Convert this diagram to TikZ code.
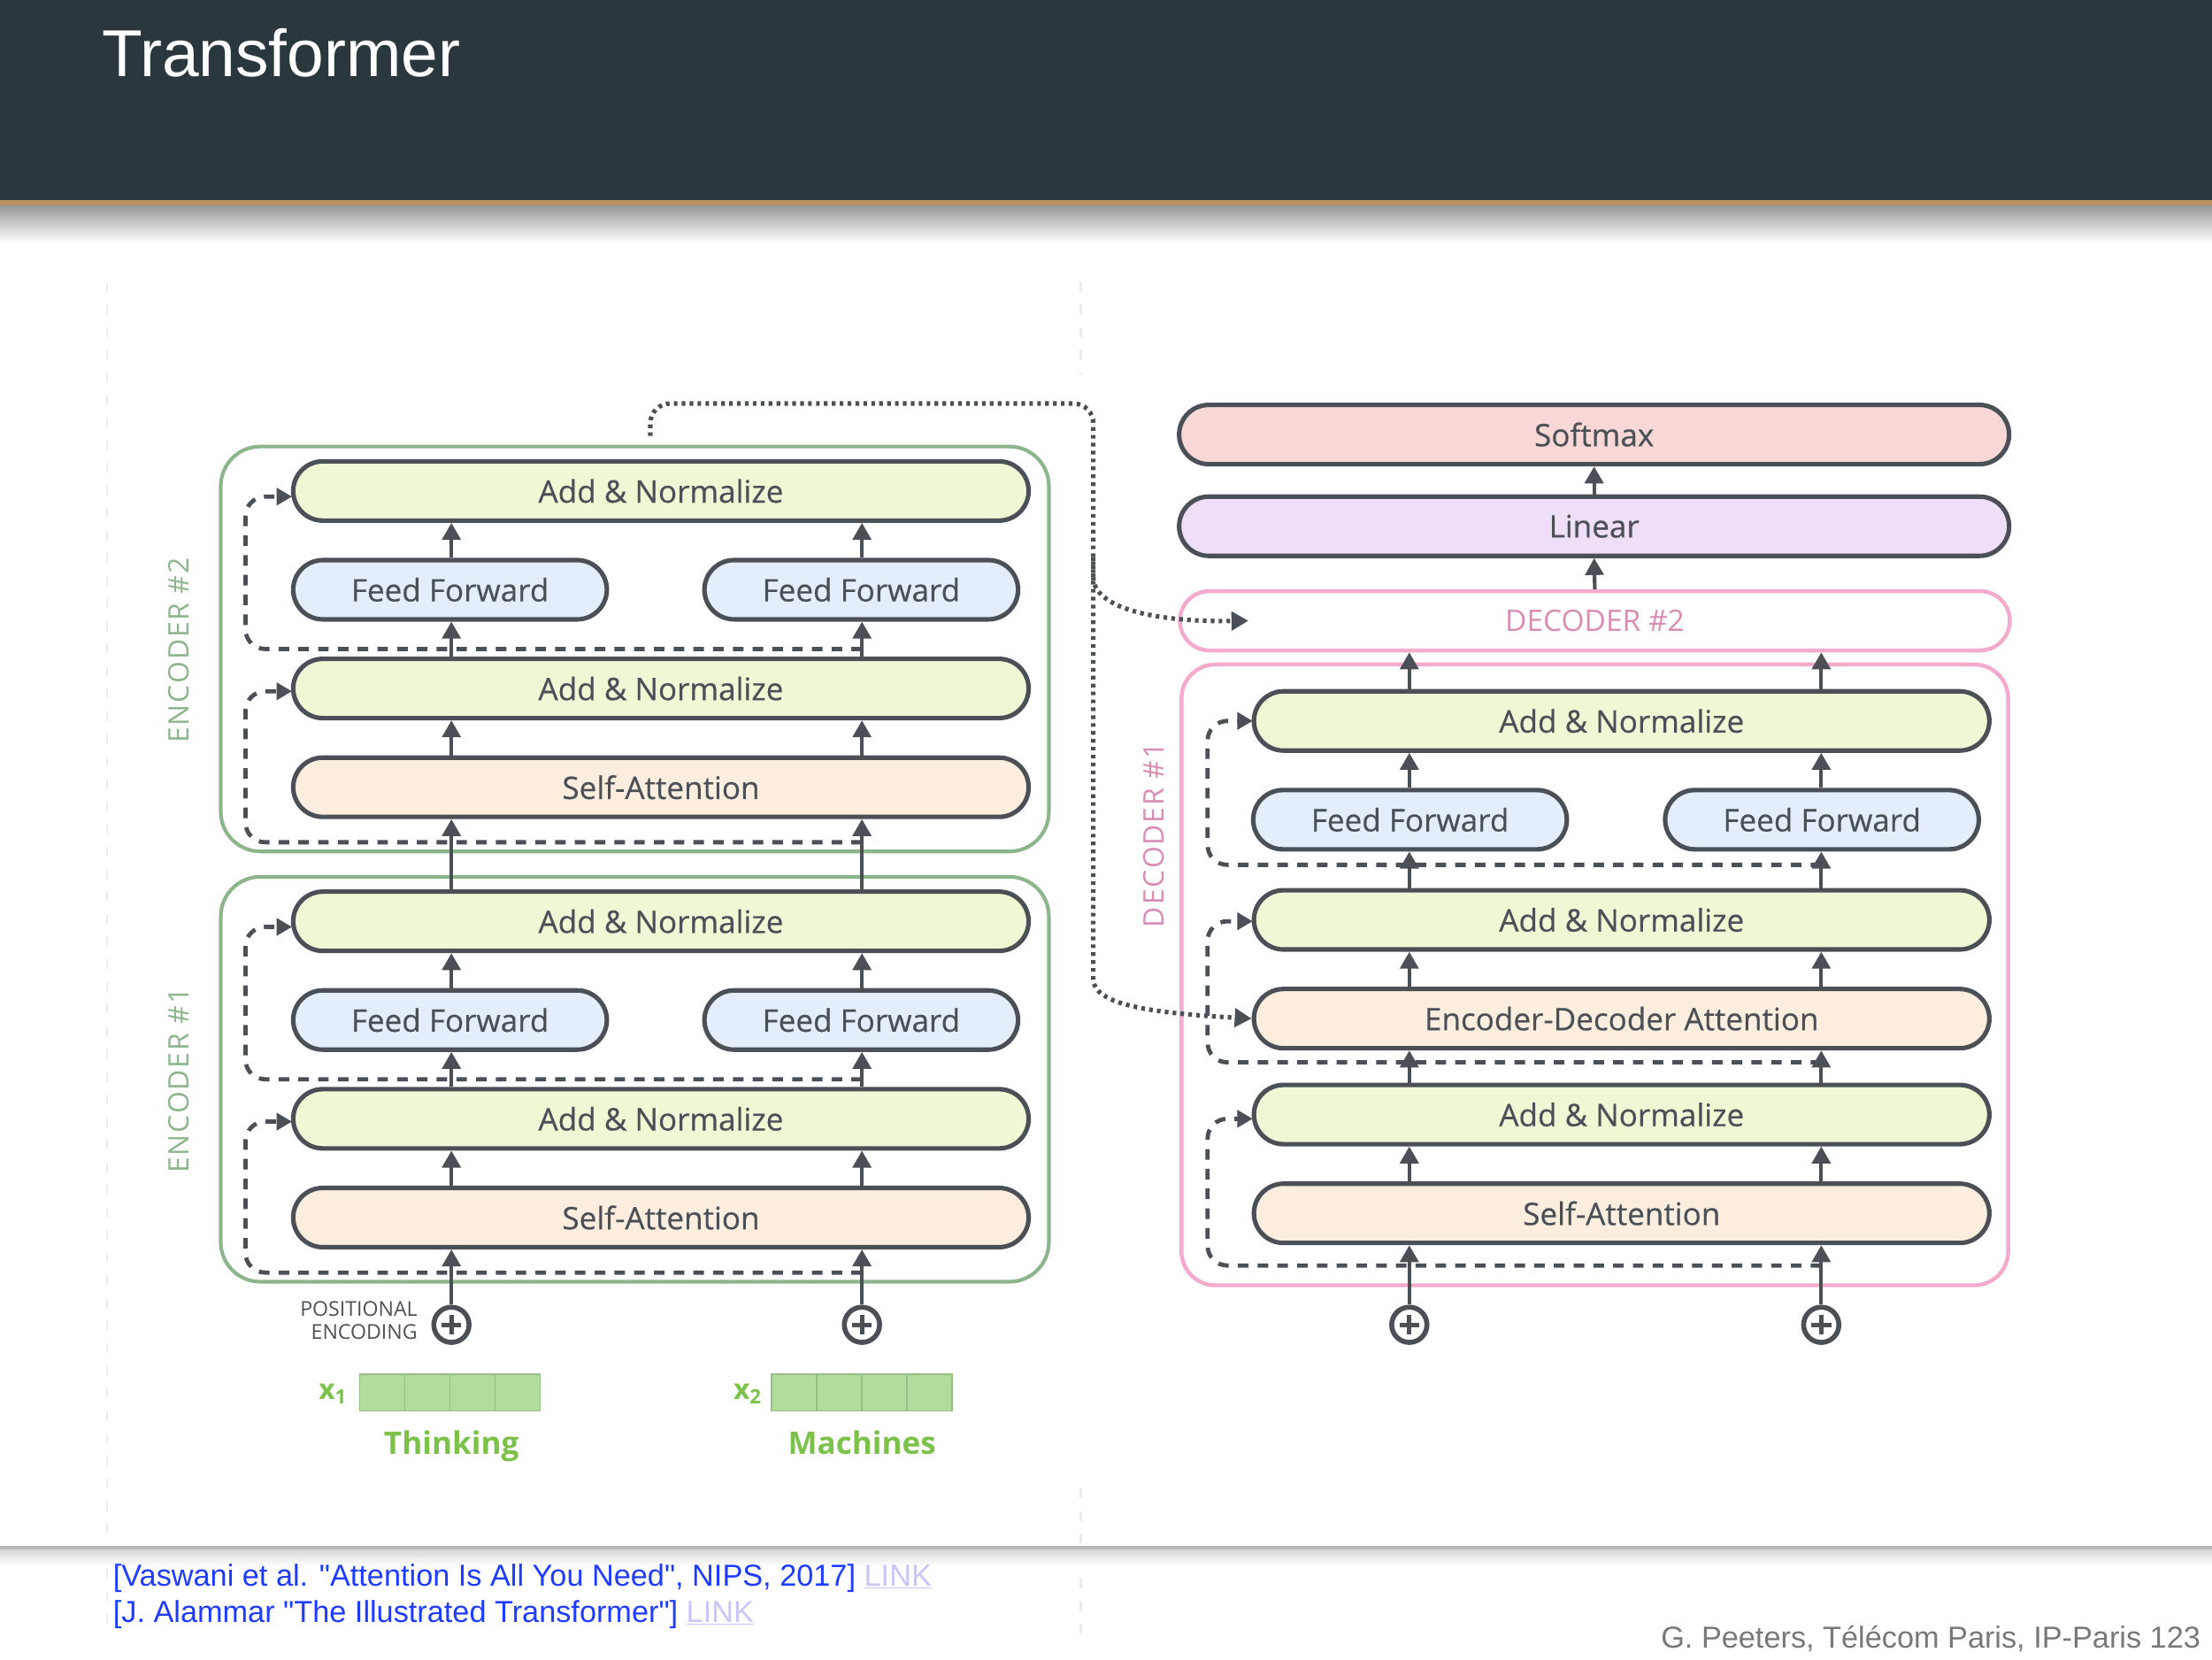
\documentclass[tikz,border=0pt]{standalone}
\usepackage{fontspec}
\setmainfont{Open Sans}
\newfontfamily\helv{Liberation Sans}
\usetikzlibrary{shapes.misc,arrows.meta}

\definecolor{barbg}{RGB}{42,55,60}
\definecolor{bartan}{RGB}{184,146,95}
\definecolor{boxline}{RGB}{75,80,86}
\definecolor{addfill}{RGB}{238,248,212}
\definecolor{fffill}{RGB}{227,238,250}
\definecolor{attfill}{RGB}{252,238,222}
\definecolor{smfill}{RGB}{247,216,214}
\definecolor{linfill}{RGB}{238,222,247}
\definecolor{encgreen}{RGB}{141,181,140}
\definecolor{decpink}{RGB}{243,170,204}
\definecolor{dectext}{RGB}{217,140,180}
\definecolor{vecfill}{RGB}{178,220,156}
\definecolor{vecline}{RGB}{150,190,135}
\definecolor{wordgreen}{RGB}{124,194,74}
\definecolor{linkblue}{RGB}{30,60,255}
\definecolor{linklight}{RGB}{198,198,250}
\definecolor{footgray}{RGB}{120,120,120}

\begin{document}
\begin{tikzpicture}[x=1pt,y=-1pt,
			layer/.style={rounded rectangle,draw=boxline,line width=3.2pt,minimum height=42pt,text=boxline,
				font=\fontsize{22}{26}\selectfont\addfontfeature{FakeBold=0.4}},
			addnorm/.style={layer,fill=addfill,minimum width=528pt},
			feedfwd/.style={layer,fill=fffill,minimum width=229pt},
			attn/.style={layer,fill=attfill,minimum width=528pt},
			outlayer/.style={layer,minimum width=595pt},
			encstack/.style={draw=encgreen,line width=2.6pt,rounded corners=28pt,minimum width=587pt},
			decstack/.style={draw=decpink,line width=2.8pt,rounded corners=24pt,minimum width=586pt},
			stacklabel/.style={rotate=90,font=\fontsize{20}{24}\selectfont\addfontfeature{LetterSpace=6}},
			uparr/.style={draw=boxline,line width=2.6pt,-{Triangle[width=13pt,length=12pt]}},
			resid/.style={draw=boxline,line width=3pt,dash pattern=on 7.5pt off 6.5pt,rounded corners=14pt,-{Triangle[width=12pt,length=11pt]}},
			link/.style={draw=boxline,line width=3.2pt,dash pattern=on 2.6pt off 3pt,rounded corners=14pt,-{Triangle[width=13pt,length=12pt]}},
			posenc/.style={circle,draw=boxline,line width=3.5pt,minimum size=25pt,inner sep=0pt,fill=white,
				path picture={\draw[boxline,line width=3.2pt] ([yshift=7pt]path picture bounding box.center) -- ([yshift=-7pt]path picture bounding box.center)
					([xshift=-7pt]path picture bounding box.center) -- ([xshift=7pt]path picture bounding box.center);}},
			cell/.style={draw=vecline,fill=vecfill,line width=1pt,minimum width=32pt,minimum height=26pt,inner sep=0pt},
			word/.style={text=wordgreen,font=\bfseries\fontsize{22}{26}\selectfont}]
	\useasboundingbox (0,0) rectangle (1568,1176);

	% slide frame
	\draw[gray!15,line width=1.5pt,dash pattern=on 7pt off 9pt] (76,200) -- (76,1160) (766,200) -- (766,265) (766,1055) -- (766,1160);
	\fill[barbg] (0,0) rectangle (1568,142);
	\fill[bartan] (0,142) rectangle (1568,146);
	\shade[top color=black!40,bottom color=white] (0,146) rectangle (1568,172);
	\node[anchor=base west,inner sep=0pt,text=white,font=\helv\fontsize{47}{50}\selectfont] (title) at (72,54) {Transformer};

	\coordinate (col_l) at (320,0);
	\coordinate (col_r) at (611,0);

	% two encoders
	\foreach \i/\d in {1/305,2/0}{
		\node[encstack,minimum height=287pt] (enc_\i) at (450,460+\d) {};
		\node[stacklabel,text=encgreen] (lab_e\i) at (127,461+\d) {ENCODER \#\i};
		\coordinate (r\i_a) at (611,597+\d);
		\coordinate (r\i_b) at (611,460+\d);
		\draw[resid] (r\i_a) -- (174,597+\d) -- (174,490+\d) -- (207,490+\d);
		\draw[resid] (r\i_b) -- (174,460+\d) -- (174,352+\d) -- (207,352+\d);
		\node[attn] (e\i_sa) at (468.5,558+\d) {Self-Attention};
		\node[addnorm] (e\i_an1) at (468.5,488+\d) {Add \& Normalize};
		\node[feedfwd] (e\i_ffl) at (319,418+\d) {Feed Forward};
		\node[feedfwd] (e\i_ffr) at (610.5,418+\d) {Feed Forward};
		\node[addnorm] (e\i_an2) at (468.5,348+\d) {Add \& Normalize};
		\draw[uparr] (e\i_sa.north -| col_l) -- (e\i_an1.south -| col_l);
		\draw[uparr] (e\i_sa.north -| col_r) -- (e\i_an1.south -| col_r);
		\draw[uparr] (e\i_an1.north -| col_l) -- (e\i_ffl.south -| col_l);
		\draw[uparr] (e\i_an1.north -| col_r) -- (e\i_ffr.south -| col_r);
		\draw[uparr] (e\i_ffl.north -| col_l) -- (e\i_an2.south -| col_l);
		\draw[uparr] (e\i_ffr.north -| col_r) -- (e\i_an2.south -| col_r);
	}
	\draw[uparr] (e1_an2.north -| col_l) -- (e2_sa.south -| col_l);
	\draw[uparr] (e1_an2.north -| col_r) -- (e2_sa.south -| col_r);

	% inputs
	\node[posenc] (pe_l) at (320,939) {};
	\node[posenc] (pe_r) at (611,939) {};
	\draw[uparr] (pe_l.north) -- (e1_sa.south -| pe_l);
	\draw[uparr] (pe_r.north) -- (e1_sa.south -| pe_r);
	\node[anchor=east,align=right,inner sep=0pt,text=boxline,font=\fontsize{14.5}{16}\selectfont] (pe_txt) at (296,936) {POSITIONAL\\ENCODING};
	\foreach \k in {0,...,3}{
		\node[cell] (x1_\k) at (271+32*\k,987) {};
		\node[cell] (x2_\k) at (563+32*\k,987) {};
	}
	\node[word,font=\bfseries\fontsize{20}{24}\selectfont] (x1_lab) at (236,988) {x\textsubscript{1}};
	\node[word,font=\bfseries\fontsize{20}{24}\selectfont] (x2_lab) at (530,988) {x\textsubscript{2}};
	\node[word,anchor=base] (w_1) at (320,1031) {Thinking};
	\node[word,anchor=base] (w_2) at (611,1031) {Machines};

	% decoder side
	\coordinate (dcol_l) at (999,0);
	\coordinate (dcol_r) at (1291,0);
	\node[decstack,minimum height=440pt] (dec_1) at (1130.5,691) {};
	\node[stacklabel,text=dectext] (lab_d1) at (818,592) {DECODER \#1};
	\node[rounded rectangle,draw=decpink,line width=2.8pt,minimum width=595pt,minimum height=42pt,text=dectext,font=\fontsize{21}{25}\selectfont] (dec_2) at (1130.5,440) {DECODER \#2};
	\coordinate (dr_a) at (1291,897);
	\coordinate (dr_b) at (1291,753);
	\coordinate (dr_c) at (1291,613);
	\draw[resid] (dr_a) -- (856,897) -- (856,793) -- (888,793);
	\draw[resid] (dr_b) -- (856,753) -- (856,653) -- (888,653);
	\draw[resid] (dr_c) -- (856,613) -- (856,511) -- (888,511);
	\node[attn] (d_sa) at (1149.5,860) {Self-Attention};
	\node[addnorm] (d_an1) at (1149.5,790) {Add \& Normalize};
	\node[attn] (d_eda) at (1149.5,722) {Encoder-Decoder Attention};
	\node[addnorm] (d_an2) at (1149.5,652) {Add \& Normalize};
	\node[feedfwd] (d_ffl) at (999.5,581) {Feed Forward};
	\node[feedfwd] (d_ffr) at (1291.5,581) {Feed Forward};
	\node[addnorm] (d_an3) at (1149.5,511) {Add \& Normalize};
	\node[outlayer,fill=linfill] (linear) at (1130,373) {Linear};
	\node[outlayer,fill=smfill] (softmax) at (1130,308) {Softmax};
	\foreach \c in {dcol_l,dcol_r}{
		\draw[uparr] (d_sa.north -| \c) -- (d_an1.south -| \c);
		\draw[uparr] (d_an1.north -| \c) -- (d_eda.south -| \c);
		\draw[uparr] (d_eda.north -| \c) -- (d_an2.south -| \c);
		\draw[uparr] (d_an3.north -| \c) -- (dec_2.south -| \c);
	}
	\draw[uparr] (d_an2.north -| dcol_l) -- (d_ffl.south -| dcol_l);
	\draw[uparr] (d_an2.north -| dcol_r) -- (d_ffr.south -| dcol_r);
	\draw[uparr] (d_ffl.north -| dcol_l) -- (d_an3.south -| dcol_l);
	\draw[uparr] (d_ffr.north -| dcol_r) -- (d_an3.south -| dcol_r);
	\draw[uparr] (dec_2.north) -- (linear.south);
	\draw[uparr] (linear.north) -- (softmax.south);
	\node[posenc] (dpe_l) at (999,939) {};
	\node[posenc] (dpe_r) at (1291,939) {};
	\draw[uparr] (dpe_l.north) -- (d_sa.south -| dpe_l);
	\draw[uparr] (dpe_r.north) -- (d_sa.south -| dpe_r);

	% encoder output to decoders
	\coordinate (enc_out) at (461,309);
	\coordinate (split) at (775,395);
	\draw[link] (enc_out) |- (775,286) -- (split) .. controls (775,430) and (815,441) .. ([xshift=50pt]dec_2.west);
	\draw[link] (split) -- (775,680) .. controls (775,712) and (815,718) .. (d_eda.west);

	% footer
	\draw[gray!55,line width=2.5pt] (0,1097) -- (1568,1097);
	\shade[top color=gray!30,bottom color=white] (0,1098.5) rectangle (1568,1110);
	\node[anchor=base west,inner sep=0pt,text=linkblue,font=\helv\fontsize{21.5}{24}\selectfont] (ref_a) at (80,1124)
		{[Vaswani et al. "Attention Is All You Need", NIPS, 2017] \textcolor{linklight}{\underline{LINK}}};
	\node[anchor=base west,inner sep=0pt,text=linkblue,font=\helv\fontsize{21.5}{24}\selectfont] (ref_b) at (80,1150)
		{[J. Alammar "The Illustrated Transformer"] \textcolor{linklight}{\underline{LINK}}};
	\node[anchor=base east,inner sep=0pt,text=footgray,font=\helv\fontsize{21.5}{24}\selectfont] (credit) at (1560,1168)
		{G. Peeters, Télécom Paris, IP-Paris 123};
\end{tikzpicture}
\end{document}
